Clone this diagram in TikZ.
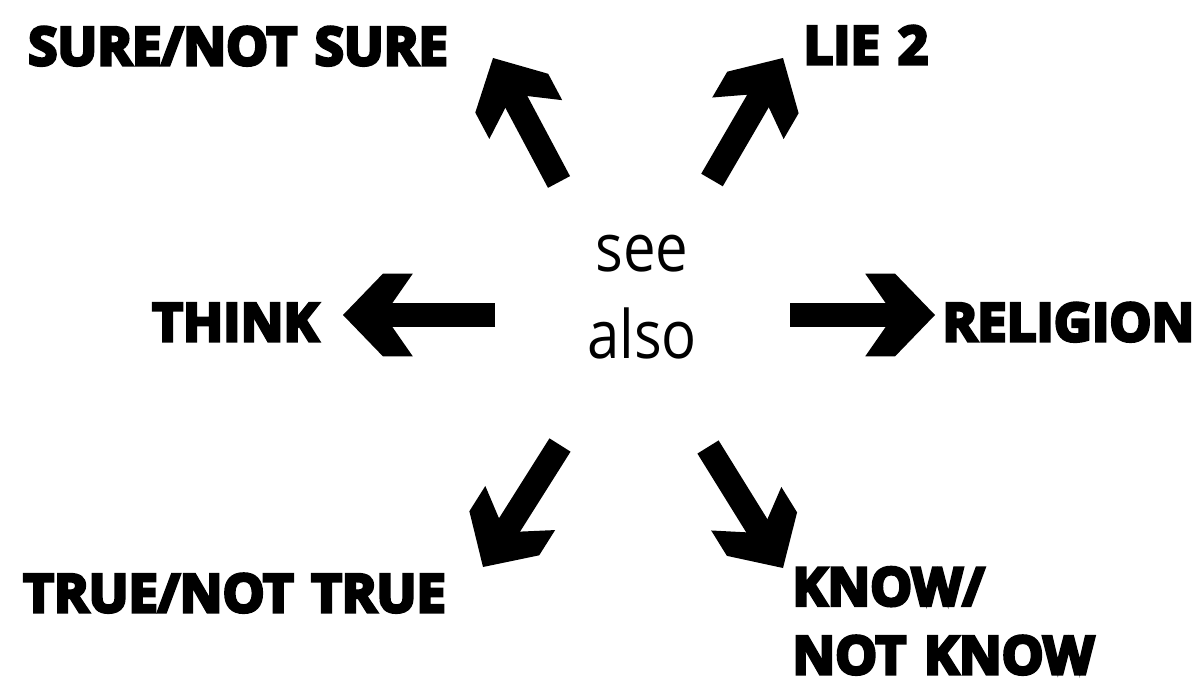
\documentclass[tikz,border=0pt]{standalone}
\usepackage{fontspec}
\setmainfont{Open Sans}
\newfontfamily\seefont[FakeStretch=0.87]{Open Sans}
\newfontfamily\labelfont[WordSpace=1.3, BoldFeatures={FakeBold=6}]{Open Sans}
\usetikzlibrary{arrows.meta, positioning, calc}

% fat chevron head of the pointers
\pgfdeclarearrow{
  name = Chevron,
  setup code = {
    \pgfarrowssettipend{0pt}
    \pgfarrowssetlineend{-25pt}
    \pgfarrowshullpoint{0pt}{0pt}
    \pgfarrowshullpoint{-39.7pt}{23.5pt}
    \pgfarrowshullpoint{-39.7pt}{-23.5pt}
  },
  drawing code = {
    \pgfpathmoveto{\pgfqpoint{0pt}{0pt}}
    \pgfpathlineto{\pgfqpoint{-22.7pt}{23.5pt}}
    \pgfpathlineto{\pgfqpoint{-39.7pt}{23.5pt}}
    \pgfpathlineto{\pgfqpoint{-28.3pt}{7.1pt}}
    \pgfpathlineto{\pgfqpoint{-28.3pt}{-7.1pt}}
    \pgfpathlineto{\pgfqpoint{-39.7pt}{-23.5pt}}
    \pgfpathlineto{\pgfqpoint{-22.7pt}{-23.5pt}}
    \pgfpathclose
    \pgfusepathqfill
  }
}

\begin{document}
\begin{tikzpicture}[
  x=0.02cm, y=-0.02cm,
  word/.style={font=\labelfont\bfseries\fontsize{30}{39}\selectfont, inner sep=0pt, anchor=base west, align=left},
  fat/.style={line width=14.2pt, -{Chevron}}
  ]
  \useasboundingbox (0,0) rectangle (1201,686);
  % centre
  \node[font=\seefont\fontsize{38}{49}\selectfont, align=center, inner sep=0pt, anchor=base] (see) at (642,358) {see\\also};
  % labels
  \node[word] (sure) at (28,65) {SURE/NOT SURE};
  \node[word] (lie) at (803,64) {LIE 2};
  \node[word] (think) at (152,341) {THINK};
  \node[word] (religion) at (942,341) {RELIGION};
  \node[word] (true) at (23,612) {TRUE/NOT TRUE};
  \node[word] (know) at (792,674) {KNOW/\\NOT KNOW};
  % pointer ends
  \coordinate (ul0) at (559,182); \coordinate (ul1) at (493,58);
  \coordinate (ur0) at (712,180); \coordinate (ur1) at (783,58);
  \coordinate (l0) at (495,315); \coordinate (l1) at (343,315);
  \coordinate (r0) at (790,315); \coordinate (r1) at (935,315);
  \coordinate (dl0) at (560,445); \coordinate (dl1) at (483,567);
  \coordinate (dr0) at (708,447); \coordinate (dr1) at (783,568);
  \draw[fat] (ul0) -- (ul1);
  \draw[fat] (ur0) -- (ur1);
  \draw[fat] (l0) -- (l1);
  \draw[fat] (r0) -- (r1);
  \draw[fat] (dl0) -- (dl1);
  \draw[fat] (dr0) -- (dr1);
\end{tikzpicture}
\end{document}
